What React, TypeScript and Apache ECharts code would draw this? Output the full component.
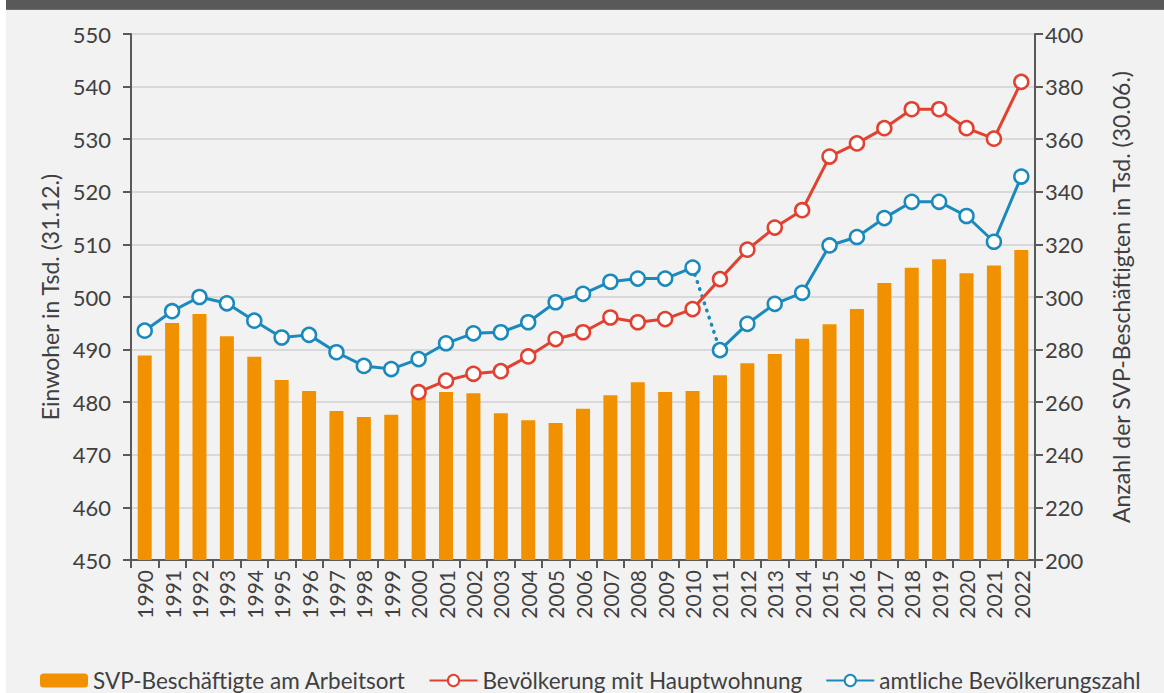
import React, { useEffect, useRef } from "react";
import * as echarts from "echarts";

const years: string[] = [
  "1990","1991","1992","1993","1994","1995","1996","1997","1998","1999",
  "2000","2001","2002","2003","2004","2005","2006","2007","2008","2009",
  "2010","2011","2012","2013","2014","2015","2016","2017","2018","2019",
  "2020","2021","2022",
];

// SVP-Beschäftigte am Arbeitsort (Tsd., right axis)
const svpEmployees: number[] = [
  277.8, 290.1, 293.5, 285.1, 277.3, 268.4, 264.3, 256.7, 254.4, 255.2,
  263.5, 263.9, 263.4, 255.8, 253.1, 252.1, 257.5, 262.6, 267.6, 263.9,
  264.3, 270.2, 274.8, 278.3, 284.1, 289.6, 295.4, 305.3, 311.1, 314.4,
  309.0, 312.0, 317.9,
];

// Bevölkerung mit Hauptwohnung (Tsd., left axis), from 2000
const mainResidence: (number | null)[] = [
  null, null, null, null, null, null, null, null, null, null,
  481.9, 484.1, 485.4, 485.9, 488.7, 492.0, 493.3, 496.1, 495.2, 495.8,
  497.7, 503.4, 509.0, 513.2, 516.5, 526.7, 529.2, 532.1, 535.7, 535.7,
  532.1, 530.1, 540.9,
];

// amtliche Bevölkerungszahl (Tsd., left axis)
const officialPop: number[] = [
  493.6, 497.3, 500.0, 498.8, 495.5, 492.3, 492.8, 489.5, 486.9, 486.3,
  488.2, 491.2, 493.1, 493.3, 495.2, 499.0, 500.6, 502.9, 503.5, 503.5,
  505.6, 489.9, 494.9, 498.7, 500.8, 509.8, 511.4, 515.0, 518.1, 518.1,
  515.4, 510.5, 522.9,
];

// break in the official series (census revision) between these years
const breakFrom = "2010";
const breakTo = "2011";

const leftTicks = { min: 450, max: 550, interval: 10 };
const rightTicks = { min: 200, max: 400, interval: 20 };

const names = {
  bar: "SVP-Beschäftigte am Arbeitsort",
  red: "Bevölkerung mit Hauptwohnung",
  blue: "amtliche Bevölkerungszahl",
};

const ORANGE = "#F29100";
const RED = "#E2412F";
const BLUE = "#1A89BE";
const TXT = "#404040";
const AXIS = "#595959";
const FONT = "Lato, 'Noto Sans', sans-serif";

export default function App() {
  const ref = useRef<HTMLDivElement>(null);

  useEffect(() => {
    if (!ref.current) return;
    const chart = echarts.init(ref.current, undefined, { renderer: "svg" });

    const iFrom = years.indexOf(breakFrom);
    const iTo = years.indexOf(breakTo);
    const bluePart1 = officialPop.map((v, i) => (i <= iFrom ? v : null));
    const bluePart2 = officialPop.map((v, i) => (i >= iTo ? v : null));
    const blueBridge = officialPop.map((v, i) => (i === iFrom || i === iTo ? v : null));

    const lineSeries = (name: string, color: string, data: (number | null)[], z: number) => ({
      name,
      type: "line",
      yAxisIndex: 0,
      data,
      z,
      symbol: "circle",
      symbolSize: 14,
      showSymbol: true,
      connectNulls: false,
      lineStyle: { color, width: 3 },
      itemStyle: { color: "#ffffff", borderColor: color, borderWidth: 2.5 },
      emphasis: { disabled: true },
    });

    chart.setOption({
      animation: false,
      backgroundColor: "#F2F2F2",
      textStyle: { fontFamily: FONT },
      graphic: [
        { type: "rect", left: 0, top: 0, shape: { width: 6, height: 693 }, style: { fill: "#ffffff" }, silent: true },
        { type: "rect", left: 6, top: 0, shape: { width: 1158, height: 9 }, style: { fill: "#595959" }, silent: true },
        { type: "rect", left: 6, top: 9, shape: { width: 1158, height: 1 }, style: { fill: "#7a6f66" }, silent: true },
      ],
      grid: { left: 131, right: 129, top: 34, bottom: 133, containLabel: false },
      legend: {
        top: 669,
        left: 40,
        padding: 0,
        itemWidth: 48,
        itemHeight: 14,
        itemGap: 23,
        data: [names.bar, names.red, names.blue],
        textStyle: { fontFamily: FONT, fontSize: 22.5, lineHeight: 20, color: TXT },
        selectedMode: false,
      },
      xAxis: {
        type: "category",
        data: years,
        boundaryGap: true,
        axisLine: { lineStyle: { color: AXIS, width: 2 } },
        axisTick: { show: true, interval: 0, length: 8, lineStyle: { color: AXIS, width: 2 } },
        axisLabel: {
          interval: 0,
          rotate: 90,
          color: TXT,
          fontSize: 21,
          fontFamily: FONT,
          margin: 10,
        },
      },
      yAxis: [
        {
          type: "value",
          position: "left",
          ...leftTicks,
          name: "Einwoher in Tsd. (31.12.)",
          nameLocation: "middle",
          nameRotate: 90,
          nameGap: 67,
          nameTextStyle: { color: TXT, fontSize: 23, fontFamily: FONT },
          axisLine: { show: true, lineStyle: { color: AXIS, width: 2 } },
          axisTick: { show: true, length: 8, lineStyle: { color: AXIS, width: 2 } },
          axisLabel: { color: TXT, fontSize: 22, fontFamily: FONT, margin: 20 },
          splitLine: { show: true, lineStyle: { color: "#D9D9D9", width: 2 } },
        },
        {
          type: "value",
          position: "right",
          ...rightTicks,
          name: "Anzahl der SVP-Beschäftigten in Tsd. (30.06.)",
          nameLocation: "middle",
          nameRotate: 90,
          nameGap: 74,
          nameTextStyle: { color: TXT, fontSize: 23, fontFamily: FONT },
          axisLine: { show: true, lineStyle: { color: AXIS, width: 2 } },
          axisTick: { show: true, length: 8, lineStyle: { color: AXIS, width: 2 } },
          axisLabel: { color: TXT, fontSize: 22, fontFamily: FONT, margin: 10 },
          splitLine: { show: false },
        },
      ],
      series: [
        {
          name: names.bar,
          type: "bar",
          yAxisIndex: 1,
          data: svpEmployees,
          barWidth: 14,
          itemStyle: { color: ORANGE },
          z: 1,
          emphasis: { disabled: true },
        },
        lineSeries(names.blue, BLUE, bluePart1, 3),
        lineSeries(names.blue, BLUE, bluePart2, 3),
        {
          name: names.blue,
          type: "line",
          yAxisIndex: 0,
          data: blueBridge,
          z: 2,
          showSymbol: false,
          symbol: "none",
          lineStyle: { color: BLUE, width: 3.5, type: [0.5, 7], cap: "round" },
          emphasis: { disabled: true },
        },
        lineSeries(names.red, RED, mainResidence, 4),
      ],
    });

    return () => chart.dispose();
  }, []);

  return (
    <div
      ref={ref}
      style={{ position: "fixed", left: 0, top: 0, width: 1164, height: 693 }}
    />
  );
}
